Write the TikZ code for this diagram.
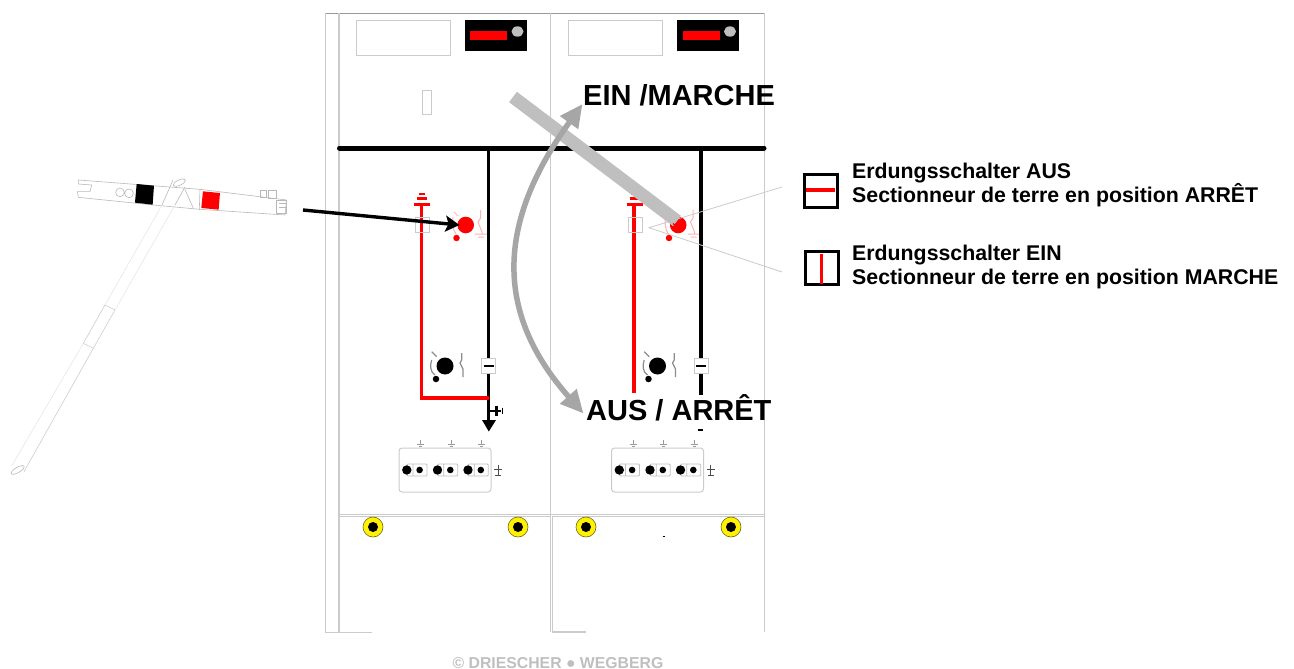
\documentclass[tikz,border=0pt]{standalone}
\usepackage{fontspec}
\setmainfont{Liberation Sans}
\usetikzlibrary{arrows.meta,positioning}
\definecolor{framegray}{HTML}{CBCBCB}
\definecolor{toolgray}{HTML}{B8B8B8}
\definecolor{palered}{HTML}{FFB0B0}
\tikzset{
  frameline/.style={draw=framegray,line width=1.8pt},
  busbar/.style={line width=5pt,line cap=round},
  dropper/.style={line width=3.4pt},
  redline/.style={draw=red,line width=3.2pt},
  knob/.style={circle,inner sep=0pt,minimum size=#1},
  screw/.style={circle,draw=olive!70!black,line width=.6pt,fill=yellow,inner sep=0pt,minimum size=20pt},
  thin gray/.style={draw=framegray,line width=1pt},
  tool/.style={draw=toolgray,line width=.6pt},
  faint/.style={draw=toolgray!40,line width=.5pt},
  swing/.style={draw=black!35,line width=5.5pt},
  big/.style={font=\fontsize{29}{33}\selectfont\bfseries,inner sep=0pt,anchor=base west},
  legend/.style={font=\fontsize{21.3}{24}\selectfont\bfseries,inner sep=0pt,anchor=west,align=left},
}
\begin{document}
\begin{tikzpicture}[x=1pt,y=-1pt]
   \useasboundingbox (0,0) rectangle (1294,669);
   % cabinet frame
   \draw[draw=black!40,line width=1pt] (325.5,13.5) -- (764.5,13.5);
   \draw[frameline,line width=1pt] (325.5,13.5) -- (325.5,632) -- (372,632);
   \draw[frameline] (339,13.5) -- (339,632);
   \draw[frameline,line width=1.5pt] (550.7,13.5) -- (550.7,632);
   \draw[frameline,line width=1.2pt] (552.7,516) -- (552.7,632) -- (586,632);
   \draw[frameline,line width=1.2pt] (764.5,13.5) -- (764.5,632);
   \draw[frameline,line width=1.2pt] (339,514.7) -- (764.5,514.7);
   \draw[frameline,line width=1.2pt] (339,516.5) -- (550,516.5) (553,516.5) -- (764.5,516.5);

   % both panels
   \foreach \dx/\side in {0/l,212.5/r} {
   \begin{scope}[shift={(\dx,0)}]
      \node[thin gray,minimum width=94pt,minimum height=34.5pt,inner sep=0pt] (window_\side) at (403.3,38.2) {};
      \node[fill=black,minimum width=62pt,minimum height=31pt,inner sep=0pt] (flag_\side) at (495.8,35.5) {};
      \fill[red] (470,31) rectangle (507,40);
      \fill[black!25] (517.5,31.5) ellipse (6 and 5.2);
      % earthing switch
      \draw[redline] (421.5,204) -- (421.5,216);
      \draw[red,line width=3pt] (414,204) -- (430,204);
      \draw[red,line width=2.4pt] (417,198.5) -- (427,198.5);
      \draw[red,line width=2.4pt] (418.5,194) -- (425,194);
      \node[knob=16.6pt,fill=red] (earth_\side) at (465.7,225) {};
      \node[knob=6.5pt,fill=red] (earthdot_\side) at (456.5,238) {};
      \draw[palered,line width=1pt] (453,217) .. controls (452,224) and (453,230) .. (456,234);
      \draw[palered,line width=1pt] (454,212) -- (458,216);
      \draw[palered,line width=1pt] (480.5,210) -- (480.5,218) -- (478,222) -- (482,232) -- (482,234) (475,234) -- (487,234) (478,237) -- (484,237);
      % load break switch
      \node[knob=17pt,fill=black] (load_\side) at (445,366) {};
      \node[knob=6.5pt,fill=black] (loaddot_\side) at (436,379) {};
      \draw[black!45,line width=1.2pt] (431.7,360) .. controls (430,365) and (430,372) .. (435,375) (431.7,351.7) -- (436.7,356.7);
      \draw[black!45,line width=1.2pt] (461.7,353) -- (461.7,360) -- (460,363) -- (463,369) -- (463,377);
      % terminals
      \draw[thin gray,rounded corners=3pt] (399,448) rectangle (491,492);
      \foreach \tx in {0,30.7,61.2} {
         \draw[black!25,line width=.8pt,rounded corners=1pt] (407+\tx,464) rectangle (427+\tx,476) (413+\tx,464) -- (413+\tx,476);
         \fill (406.8+\tx,470) circle (4.7);
         \fill (419.6+\tx,470) circle (3.3);
         \draw[black!40,line width=.7pt] (420.5+\tx,440) -- (420.5+\tx,445) (417+\tx,444) -- (424+\tx,444) (419+\tx,446) -- (422+\tx,446);
      }
      \draw[black!70,line width=.8pt] (498,465) -- (498,475) (494,469) -- (502,469) (495,475) -- (501,475);
      % testing point
      \node[thin gray,fill=white,minimum width=14pt,minimum height=15pt,inner sep=0pt] (test_\side) at (488.5,365.5) {};
   \end{scope}
   }

   \node[thin gray,minimum width=8.5pt,minimum height=23.5pt,inner sep=0pt] (slot) at (427.2,102.7) {};

   % bus and feeders
   \draw[busbar] (339.5,148) coordinate (bus_a) -- (764,148) coordinate (bus_b);
   \coordinate (feed_l) at (488.5,148);
   \coordinate (feed_r) at (701,148);
   \draw[dropper] (feed_l) -- (test_l.north);
   \draw[dropper] (test_l.south) -- (488.5,421);
   \draw[dropper] (feed_r) -- (test_r.north);
   \draw[dropper] (test_r.south) -- (701,395);
   \draw[line width=2.5pt] (483.5,366) -- (493.5,366) (696,366) -- (706,366);
   \fill (488.8,431.5) -- (482,420) -- (496,420) -- cycle;
   \draw[line width=1.5pt] (697.5,430) -- (702.5,430);
   \draw[line width=2pt] (488.5,410.7) -- (501,410.7);
   \draw[line width=3pt] (496,405.5) -- (496,416);
   \draw[line width=1.5pt] (502.5,407.5) -- (502.5,414);
   \draw[redline,line cap=round] (421.5,216) -- (421.5,398) -- (488,398);
   \draw[redline] (634,216) -- (634,393);
   \draw[thin gray] (415.5,217) rectangle (429.5,232) (628,217) rectangle (642,232);
   \draw[black,line width=.6pt] (662.5,536.3) -- (665,536.3);

   % yellow screws
   \foreach \sx in {373,518,586,731} {
      \node[screw] (screw_\sx) at (\sx,527) {};
      \fill (\sx,527) circle (5);
   }

   % operating tool
   \begin{scope}[shift={(0,170)},x=.3333pt,y=-.3333pt]
      \draw[tool] (235,30) -- (600,58) -- (860,90) -- (855,135) -- (600,118) -- (460,105) -- (235,82) -- (232,65) -- (270,65) -- (275,45) -- (235,42) -- cycle;
      \draw[tool] (360,67) circle (13) (387,70) circle (13);
      \fill[black] (410,42) -- (462,47) -- (458,104) -- (405,98) -- cycle;
      \fill[red] (609,64) -- (660,69) -- (656,119) -- (604,114) -- cycle;
      \draw[tool] (555,58) -- (580,115) (600,58) -- (598,120);
      \draw[tool] (519,30) -- (486,105) (555,51) -- (525,105);
      \draw[tool,fill=white,rotate around={25:(538,38)}] (538,38) ellipse (20 and 8);
      \draw[faint] (486,105) -- (315,405) (525,105) -- (345,420);
      \draw[tool,draw=toolgray!70] (315,405) -- (250,520) (345,420) -- (280,535);
      \draw[tool,draw=toolgray!70] (315,405) -- (345,420) (250,520) -- (280,535);
      \draw[faint] (250,520) -- (35,888);
      \draw[tool,draw=toolgray!70] (280,535) -- (72,905);
      \draw[tool,fill=white,rotate around={30:(53,900)}] (53,900) ellipse (22 and 8);
      \draw[tool] (780,60) rectangle (800,82) (805,62) rectangle (828,84) (830,92) rectangle (858,130) (838,100) -- (858,100) (838,112) -- (858,112);
   \end{scope}

   % thin leader lines
   \coordinate (lead_a) at (782,187);
   \coordinate (lead_b) at (649,227.7);
   \coordinate (lead_c) at (782,272);
   \draw[thin gray,line width=.8pt] (lead_a) -- (lead_b) -- (lead_c);

   % handle direction
   \coordinate (bar_a) at (513,97);
   \coordinate (bar_b) at (677,221);
   \draw[draw=toolgray!90,line width=13pt] (bar_a) -- (bar_b);
   \draw[red,line width=1.3pt] (673,223.5) -- (677,227) -- (683,219);
   \coordinate (ein_tip) at (582.5,104);
   \coordinate (aus_tip) at (583.5,413.5);
   \draw[swing,{Triangle[length=23pt,width=21pt]}-{Triangle[length=23pt,width=21pt]}] (ein_tip) .. controls (501,217) and (490,308) .. (aus_tip);
   \coordinate (tool_tip) at (303,210);
   \coordinate (knob_tip) at (459.5,225);
   \draw[line width=3.4pt,-{Stealth[length=14pt,width=16pt,inset=3pt]}] (tool_tip) -- (knob_tip);

   % labels
   \node[big] (ein) at (583,106) {EIN /MARCHE};
   \node[big] (aus) at (586,420.5) {AUS / ARRÊT};
   \node[legend] (text_aus) at (852,185) {Erdungsschalter AUS\\Sectionneur de terre en position ARRÊT};
   \node[legend] (text_ein) at (852,267) {Erdungsschalter EIN\\Sectionneur de terre en position MARCHE};

   % legend boxes
   \node[draw=black,line width=3pt,minimum width=33pt,minimum height=33pt,inner sep=0pt] (box_aus) at (821,190.8) {};
   \node[draw=black,line width=3pt,minimum width=33pt,minimum height=33pt,inner sep=0pt] (box_ein) at (822,268) {};
   \draw[redline] (806,190) -- (835,190);
   \draw[redline] (821.7,254) -- (821.7,284);

   \node[font=\fontsize{15.8}{17}\selectfont\bfseries,text=black!25,anchor=base,inner sep=0pt] (copyright) at (558,668) {© DRIESCHER ● WEGBERG};
\end{tikzpicture}
\end{document}
